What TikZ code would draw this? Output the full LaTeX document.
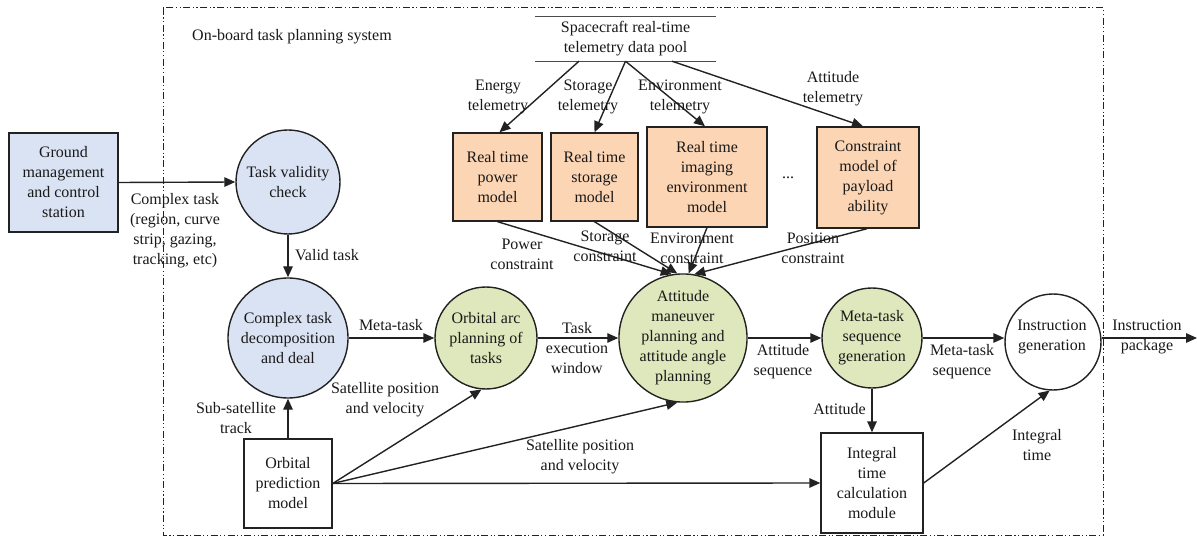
\documentclass[tikz,border=0pt]{standalone}
\usepackage{fontspec}
\setmainfont{Liberation Serif}
\usetikzlibrary{arrows.meta}
\definecolor{gblue}{HTML}{DAE3F3}
\definecolor{ggreen}{HTML}{DEE8BC}
\definecolor{gorange}{HTML}{FCD5B4}
\definecolor{gline}{HTML}{222222}
\begin{document}
\begin{tikzpicture}[x=1pt,y=-1pt,
  font=\fontsize{16}{20}\selectfont,
  every node/.style={align=center, inner sep=0pt, text=black!90},
  conn/.style={draw=gline, line width=1.4pt, -{Triangle[length=11pt,width=9.5pt]}},
  box/.style={draw=gline, line width=1.4pt, rectangle},
  circ/.style={draw=gline, line width=1.4pt, circle},
  frame/.style={draw=gline, line width=1pt, dash pattern=on 7pt off 2.5pt on 1.2pt off 2.5pt on 1.2pt off 2.5pt}
]
\useasboundingbox (0,0) rectangle (1197,537);

% frame
\draw[frame] (163,8) rectangle (1103,535);
\node[anchor=west] (title) at (192,37) {On-board task planning system};

% nodes
\node[box, fill=gblue, minimum width=109pt, minimum height=99pt] (ground) at (63.5,182.5) {Ground\\management\\and control\\station};
\node[circ, fill=gblue, minimum size=104pt] (valid) at (288,182) {Task validity\\check};
\node[circ, fill=gblue, minimum size=120pt] (complex) at (288,338) {Complex task\\decomposition\\and deal};
\node[box, minimum width=88pt, minimum height=89pt] (opm) at (288,483.5) {Orbital\\prediction\\model};
\node[circ, fill=ggreen, minimum size=102pt] (orbarc) at (486,338) {Orbital arc\\planning of\\tasks};
\node[circ, fill=ggreen, minimum size=122pt] (att) at (683,338) {Attitude\\maneuver\\planning and\\attitude angle\\planning};
\node[circ, fill=ggreen, minimum size=100pt] (metaseq) at (872,338) {Meta-task\\sequence\\generation};
\node[circ, minimum size=96pt] (instr) at (1053,342) {};
\node (instrtxt) at (1052,337) {Instruction\\generation};
\node[box, minimum width=102pt, minimum height=100pt] (integ) at (872,483) {Integral\\time\\calculation\\module};
\coordinate (out) at (1197,338);

% telemetry pool
\node[minimum width=181pt, minimum height=44pt] (pool) at (625.5,39) {Spacecraft real-time\\telemetry data pool};
\draw[draw=black!70, line width=1.3pt] (pool.north west) -- (pool.north east);
\draw[draw=black!70, line width=1.3pt] (pool.south west) -- (pool.south east);

\node[box, fill=gorange, minimum width=89pt, minimum height=88pt] (power) at (497.5,177) {Real time\\power\\model};
\node[box, fill=gorange, minimum width=87pt, minimum height=88pt] (storage) at (594.5,177) {Real time\\storage\\model};
\node[box, fill=gorange, minimum width=120pt, minimum height=100pt] (env) at (707,177) {Real time\\imaging\\environment\\model};
\node[box, fill=gorange, minimum width=102pt, minimum height=101pt] (cons) at (868,177.5) {Constraint\\model of\\payload\\ability};
\node (dots) at (788,178) {...};

% telemetry arrows
\draw[conn] ([xshift=-46.5pt]pool.south) -- ([xshift=2pt]power.north);
\draw[conn] (pool.south) -- (storage.north);
\draw[conn] (pool.south) -- ([xshift=-2pt]env.north);
\draw[conn] ([xshift=46.5pt]pool.south) -- ([xshift=-5pt]cons.north);
\node (l_energy) at (498,97) {Energy\\telemetry};
\node (l_storage) at (588,97) {Storage\\telemetry};
\node (l_env) at (680,97) {Environment\\telemetry};
\node (l_att) at (833,89) {Attitude\\telemetry};

% constraint arrows
\draw[conn] (power.south) -- (att.100);
\draw[conn] (storage.south) -- (att.95);
\draw[conn] (env.south) -- (att.85);
\draw[conn] ([xshift=-1pt]cons.south) -- (att.80);
\node (l_pc) at (522,254) {Power\\constraint};
\node (l_sc) at (605,246) {Storage\\constraint};
\node (l_ec) at (692,248) {Environment\\constraint};
\node (l_posc) at (813,248) {Position\\constraint};

% main flow
\draw[conn] (ground.east) -- (valid.west);
\node (l_complex) at (175,231) {Complex task\\(region, curve\\strip, gazing,\\tracking, etc)};
\draw[conn] (valid.south) -- (complex.north);
\node[anchor=west] (l_valid) at (295,255) {Valid task};
\draw[conn] (opm.north) -- (complex.south);
\node (l_sub) at (236,418) {Sub-satellite\\track};
\draw[conn] (complex.east) -- (orbarc.west);
\node (l_meta) at (391,325) {Meta-task};
\draw[conn] (orbarc.east) -- (att.west);
\node (l_tew) at (577,348) {Task\\execution\\window};
\draw[conn] (att.east) -- (metaseq.west);
\node (l_as) at (783,362) {Attitude\\sequence};
\draw[conn] (metaseq.east) -- (instr.west |- metaseq.east);
\node (l_mts) at (962,362) {Meta-task\\sequence};
\draw[conn] (instr.east |- out) -- (out);
\node (l_ip) at (1147,337) {Instruction\\package};
\draw[conn] (metaseq.south) -- (integ.north);
\node[anchor=east] (l_attitude) at (866,409) {Attitude};
\draw[conn] (integ.east) -- (instr.266);
\node (l_it) at (1037,445) {Integral\\time};

% orbital prediction outputs
\draw[conn] (opm.east) -- (orbarc.265);
\draw[conn] (opm.east) -- (att.265);
\draw[conn] (opm.east) -- (integ.west);
\node (l_spv1) at (385,400) {Satellite position\\and velocity};
\node (l_spv2) at (580,457) {Satellite position\\and velocity};
\end{tikzpicture}
\end{document}
